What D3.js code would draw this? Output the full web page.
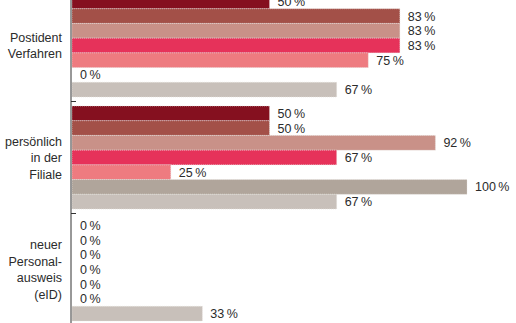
<!DOCTYPE html>
<html><head><meta charset="utf-8">
<script src="https://cdn.jsdelivr.net/npm/d3@7"></script>
<style>body{margin:0;background:#fff}svg{display:block}</style>
</head><body><div id="c"></div>
<script>
const categories = [
  ["Postident", "Verfahren"],
  ["persönlich", "in der", "Filiale"],
  ["neuer", "Personal-", "ausweis", "(eID)"]
];
const seriesColors = ["#85101f", "#a35048", "#c99188", "#e6325a", "#ee7b80", "#b0a59b", "#c8c0ba"];
const values = [
  [50, 83, 83, 83, 75, 0, 67],
  [50, 50, 92, 67, 25, 100, 67],
  [0, 0, 0, 0, 0, 0, 33]
];

const W = 516, H = 323;
const svg = d3.select("#c").append("svg").attr("width", W).attr("height", H)
  .style("font-family", "'Liberation Sans', Arial, Helvetica, sans-serif");

const x = d3.scaleLinear().domain([0, 100]).range([72, 467]);
const p = 9 / 112;
const y0 = d3.scaleBand().domain(d3.range(categories.length)).range([-10.5, 325.5])
  .paddingInner(p).paddingOuter(p / 2);
const y1 = d3.scaleBand().domain(d3.range(seriesColors.length)).range([0, y0.bandwidth()]);

const g = svg.selectAll("g.grp").data(values).join("g").attr("class", "grp")
  .attr("transform", (d, i) => `translate(0,${y0(i)})`);

g.selectAll("rect").data(d => d).join("rect")
  .attr("x", x(0))
  .attr("y", (d, j) => y1(j))
  .attr("width", d => x(d) - x(0))
  .attr("height", y1.bandwidth())
  .attr("fill", (d, j) => seriesColors[j])
  .attr("stroke", "#e4dfdb").attr("stroke-width", 0.6).attr("stroke-dasharray", "1,1");

g.selectAll("text.val").data(d => d).join("text").attr("class", "val")
  .attr("x", d => x(d) + 8)
  .attr("y", (d, j) => y1(j) + y1.bandwidth() / 2 + 4.5)
  .attr("font-size", 12.5).attr("fill", "#2b2b2b")
  .text(d => d + "\u2009%");

// category labels
g.each(function (d, i) {
  const lines = categories[i];
  const cy = y0.bandwidth() / 2;
  const lh = 16.5;
  d3.select(this).selectAll("text.cat").data(lines).join("text").attr("class", "cat")
    .attr("x", 62).attr("text-anchor", "end")
    .attr("y", (t, k) => cy + (k - (lines.length - 1) / 2) * lh + 4.5)
    .attr("font-size", 12.5).attr("fill", "#2b2b2b")
    .text(t => t);
});

// axis line and boundary ticks
const bounds = d3.range(categories.length).map(i => y0(i) + y0.bandwidth() + y0.step() * p / 2);
svg.append("line").attr("x1", 71).attr("x2", 71).attr("y1", 0).attr("y2", H)
  .attr("stroke", "#333").attr("stroke-width", 1);
svg.selectAll("line.tick").data(bounds).join("line").attr("class", "tick")
  .attr("x1", 71).attr("x2", 76).attr("y1", d => d).attr("y2", d => d)
  .attr("stroke", "#333").attr("stroke-width", 1);
</script></body></html>
